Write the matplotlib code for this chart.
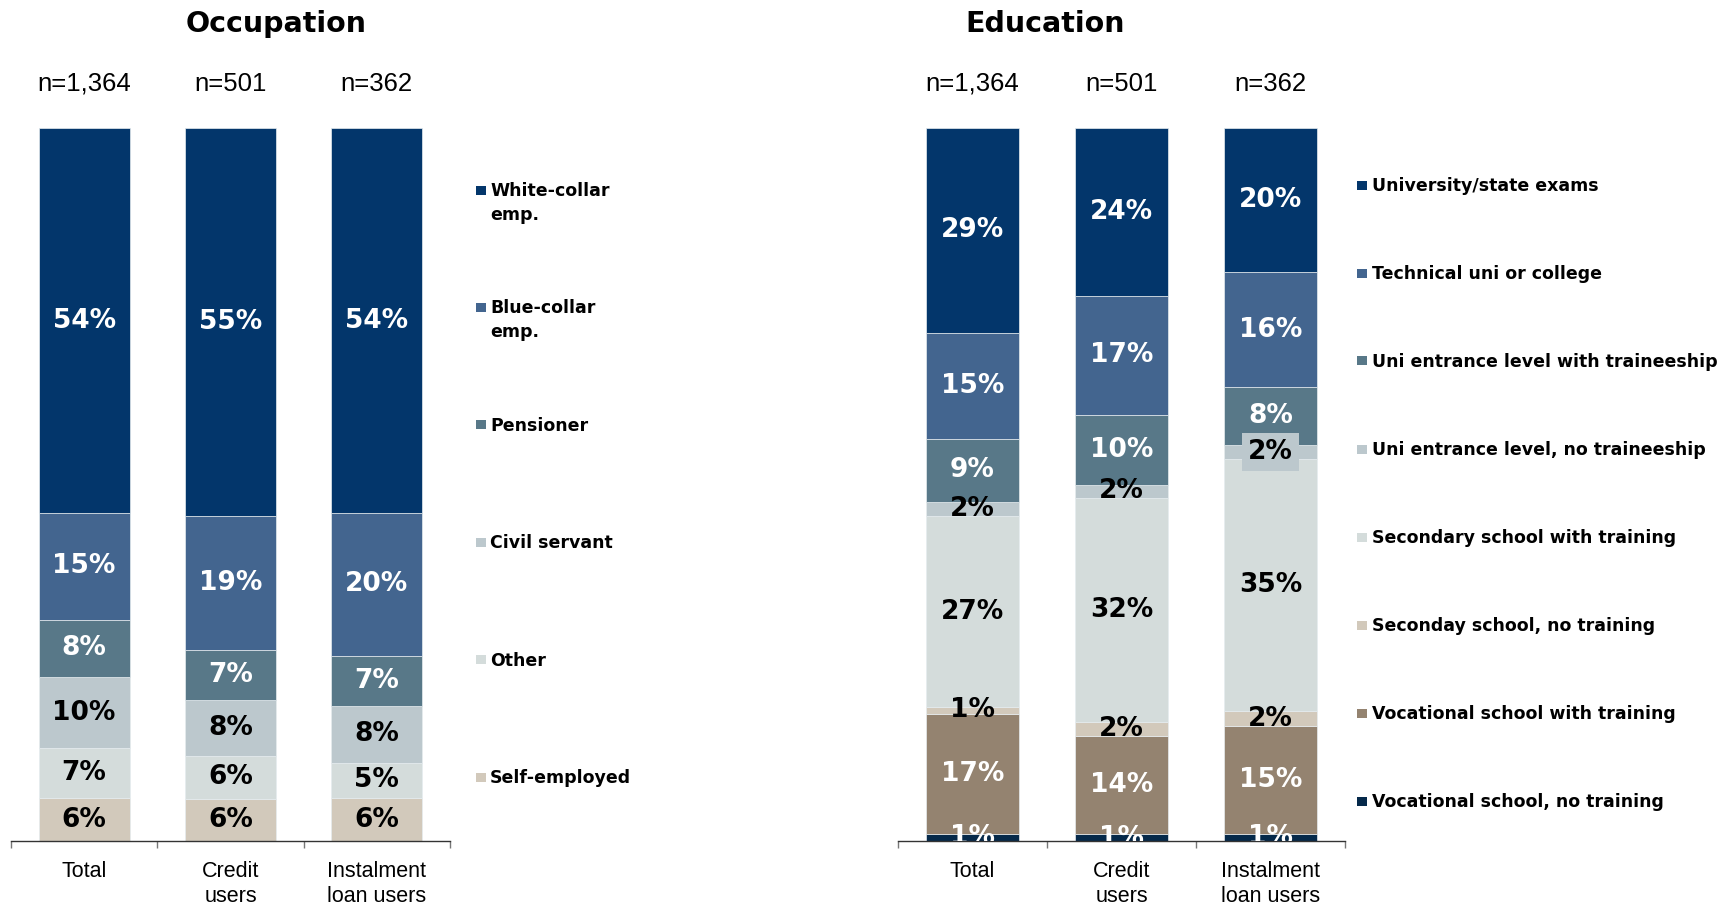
import numpy as np
import matplotlib.pyplot as plt
from matplotlib.patches import Rectangle
from matplotlib.transforms import blended_transform_factory

W, H = 1728, 907

groups = ['Total', 'Credit\nusers', 'Instalment\nloan users']
sample_sizes = ['n=1,364', 'n=501', 'n=362']

# segments listed bottom -> top
occ_labels = ['Self-employed', 'Other', 'Civil servant', 'Pensioner',
              'Blue-collar\nemp.', 'White-collar\nemp.']
occ_total = [6, 7, 10, 8, 15, 54]
occ_credit = [6, 6, 8, 7, 19, 55]
occ_instal = [6, 5, 8, 7, 20, 54]

edu_labels = ['Vocational school, no training', 'Vocational school with training',
              'Seconday school, no training', 'Secondary school with training',
              'Uni entrance level, no traineeship', 'Uni entrance level with traineeship',
              'Technical uni or college', 'University/state exams']
edu_total = [1, 17, 1, 27, 2, 9, 15, 29]
edu_credit = [1, 14, 2, 32, 2, 10, 17, 24]
edu_instal = [1, 15, 2, 35, 2, 8, 16, 20]

NAVY = '#03366B'
BLUE = '#43658F'
SLATE = '#587888'
GREY = '#BCC8CD'
PALE = '#D4DCDB'
SAND = '#D2C9BB'
BROWN = '#948370'
DARK = '#05294A'

occ_colors = [SAND, PALE, GREY, SLATE, BLUE, NAVY]
occ_text = ['black', 'black', 'black', 'white', 'white', 'white']
edu_colors = [DARK, BROWN, SAND, PALE, GREY, SLATE, BLUE, NAVY]
edu_text = ['white', 'white', 'black', 'black', 'black', 'white', 'white', 'white']

plt.rcParams['font.family'] = 'DejaVu Sans'
fig = plt.figure(figsize=(W / 100, H / 100), dpi=100)


def fx(px):
    return px / W


def fy(py):
    return 1 - py / H


def draw_panel(ax, series, colors, text_colors, boxed=()):
    x = np.arange(len(groups))
    data = np.array(series, dtype=float)
    shares = data / data.sum(axis=1, keepdims=True) * 100
    bottom = np.zeros(len(groups))
    for s in range(data.shape[1]):
        ax.bar(x, shares[:, s], 0.62, bottom=bottom, color=colors[s],
               edgecolor='#E6ECEF', linewidth=0.5, zorder=2)
        for i in range(len(groups)):
            kw = {}
            if (i, s) in boxed:
                kw['bbox'] = dict(boxstyle='square,pad=0.22', facecolor=colors[s],
                                  edgecolor='none')
            ax.text(x[i], bottom[i] + shares[i, s] / 2, f'{int(data[i, s])}%',
                    ha='center', va='center', fontsize=19, fontweight='bold',
                    color=text_colors[s], clip_on=True, zorder=3, **kw)
        bottom += shares[:, s]

    ax.set_xlim(-0.5, 2.5)
    ax.set_ylim(0, 100)
    for side in ['top', 'left', 'right']:
        ax.spines[side].set_visible(False)
    ax.spines['bottom'].set_color('#333333')
    ax.spines['bottom'].set_linewidth(1.0)
    ax.set_yticks([])
    ax.set_xticks(x)
    ax.set_xticklabels(groups, fontfamily='Liberation Sans', fontsize=15.5,
                       linespacing=1.25)
    ax.tick_params(axis='x', which='major', length=0, pad=14.5)
    ax.set_xticks(np.arange(-0.5, 3.0, 1.0), minor=True)
    ax.tick_params(axis='x', which='minor', length=5, width=1.0, color='#777777')

    trans = blended_transform_factory(ax.transData, ax.transAxes)
    for i, n in enumerate(sample_sizes):
        ax.text(x[i], 1.062, n, transform=trans, ha='center', va='center',
                fontfamily='Liberation Sans', fontsize=18.5)


def draw_legend(labels, colors, mark_x, text_x, top_y, step):
    # legend rows run top -> bottom, reverse of the stacking order
    rows = list(zip(labels, colors))[::-1]
    for r, (lab, col) in enumerate(rows):
        y = top_y + r * step
        fig.patches.append(Rectangle((fx(mark_x), fy(y + 4.5)), fx(10), 9 / H,
                                     transform=fig.transFigure, facecolor=col,
                                     edgecolor='none'))
        for j, line in enumerate(lab.split('\n')):
            fig.text(fx(text_x), fy(y + j * 24 + 1), line, ha='left', va='center',
                     fontsize=12.5, fontweight='bold')


occ_ax = fig.add_axes([fx(11), fy(841), fx(439), 713 / H])
draw_panel(occ_ax, [occ_total, occ_credit, occ_instal], occ_colors, occ_text)

edu_ax = fig.add_axes([fx(898), fy(841), fx(447), 713 / H])
draw_panel(edu_ax, [edu_total, edu_credit, edu_instal], edu_colors, edu_text,
           boxed={(2, 4)})

fig.text(fx(276), fy(24), 'Occupation', ha='center', va='center',
         fontsize=20.5, fontweight='bold')
fig.text(fx(1045), fy(24), 'Education', ha='center', va='center',
         fontsize=20.5, fontweight='bold')

draw_legend(occ_labels, occ_colors, 476, 490, 190, 117.4)
draw_legend(edu_labels, edu_colors, 1357, 1372, 185, 88.0)

fig.savefig('out.png', dpi=100, facecolor='white')
